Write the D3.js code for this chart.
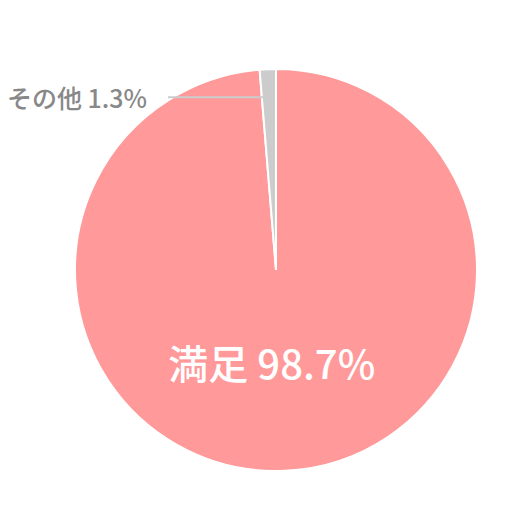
<!DOCTYPE html>
<html>
<head>
<meta charset="utf-8">
<script src="https://cdn.jsdelivr.net/npm/d3@7"></script>
<style>
  body { margin: 0; background: #fff; }
  text { font-family: "Noto Sans CJK JP", "Noto Sans", sans-serif; }
</style>
</head>
<body>
<div id="chart"></div>
<script>
// data
const labels = ["満足", "その他"];
const values = [98.7, 1.3];
const colors = ["#ff999a", "#cccccc"];

let width = 530;
let height = 530;
let cx = 276, cy = 270, radius = 201;

let svg = d3.select('#chart')
            .append('svg')
            .attr('width', width)
            .attr('height', height);

let g = svg.append('g')
           .attr('transform', `translate(${cx}, ${cy})`);

const data = labels.map((l, i) => ({label: l, value: values[i], color: colors[i]}));

let pie = d3.pie()
            .sort(null)
            .value(d => d.value);

let arc = d3.arc()
            .innerRadius(0)
            .outerRadius(radius);

let arcs = pie(data);

g.selectAll('path')
 .data(arcs)
 .enter()
 .append('path')
 .attr('d', arc)
 .attr('fill', d => d.data.color)
 .attr('stroke', '#fff')
 .attr('stroke-width', 2);

// big label inside
let innerArc = d3.arc().innerRadius(radius * 0.46).outerRadius(radius * 0.46);
let big = arcs[0];
let c = innerArc.centroid(big);
g.append('text')
 .attr('x', c[0] - 8)
 .attr('y', c[1])
 .attr('text-anchor', 'middle')
 .attr('dominant-baseline', 'central')
 .attr('fill', '#fff')
 .attr('font-size', 40)
 .attr('font-weight', 500)
 .text(`${big.data.label} ${big.data.value}%`);

// small slice label with leader line
let small = arcs[1];
let lineArc = d3.arc().innerRadius(radius * 0.86).outerRadius(radius * 0.86);
let p = lineArc.centroid(small);
let lineEndX = 168 - cx;
g.append('line')
 .attr('x1', p[0] - 6)
 .attr('y1', p[1])
 .attr('x2', lineEndX)
 .attr('y2', p[1])
 .attr('stroke', '#cccccc')
 .attr('stroke-width', 2);

g.append('text')
 .attr('x', lineEndX - 21)
 .attr('y', p[1])
 .attr('text-anchor', 'end')
 .attr('dominant-baseline', 'central')
 .attr('fill', '#888888')
 .attr('font-size', 25)
 .attr('font-weight', 500)
 .text(`${small.data.label} ${small.data.value}%`);
</script>
</body>
</html>
